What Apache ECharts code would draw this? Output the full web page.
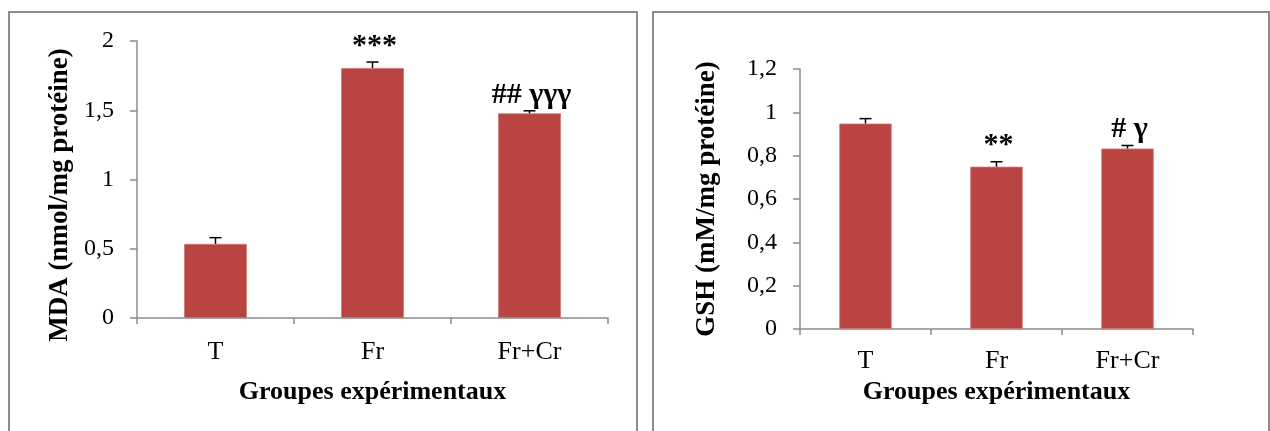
<!DOCTYPE html>
<html>
<head>
<meta charset="utf-8">
<script src="https://cdn.jsdelivr.net/npm/echarts@6/dist/echarts.min.js"></script>
<style>
html,body{margin:0;padding:0;background:#fff;}
#chart{width:1270px;height:431px;}
</style>
</head>
<body>
<div id="chart"></div>
<script>
// ---- data ----
var categories = ['T', 'Fr', 'Fr+Cr'];
var mdaValues = [0.535, 1.805, 1.478];
var mdaErrors = [0.045, 0.043, 0.018];
var mdaSignif = ['', '***', '## γγγ'];
var gshValues = [0.948, 0.749, 0.833];
var gshErrors = [0.023, 0.023, 0.014];
var gshSignif = ['', '**', '# γ'];
var mdaTicks = [0, 0.5, 1, 1.5, 2];
var gshTicks = [0, 0.2, 0.4, 0.6, 0.8, 1, 1.2];
var mdaName = 'MDA (nmol/mg protéine)';
var gshName = 'GSH (mM/mg protéine)';
var xName = 'Groupes expérimentaux';

var FONT = '"Liberation Serif", "Times New Roman", serif';
var AXIS_GRAY = '#8c8c8c';
var BAR_COLOR = '#B94442';

function fmt(v) { return String(+v.toFixed(2)).replace('.', ','); }

function errSeries(xIdx, vals, errs, sig) {
  return {
    type: 'custom',
    xAxisIndex: xIdx,
    yAxisIndex: xIdx,
    z: 5,
    data: vals.map(function (v, i) { return [i, v, errs[i]]; }),
    renderItem: function (params, api) {
      var i = api.value(0), v = api.value(1), e = api.value(2);
      var p0 = api.coord([i, v]);
      var p1 = api.coord([i, v + e]);
      var cap = 6;
      var children = [
        { type: 'line', shape: { x1: p0[0], y1: p0[1], x2: p1[0], y2: p1[1] }, style: { stroke: '#000', lineWidth: 1.5 } },
        { type: 'line', shape: { x1: p1[0] - cap, y1: p1[1], x2: p1[0] + cap, y2: p1[1] }, style: { stroke: '#000', lineWidth: 1.5 } }
      ];
      if (sig[i]) {
        children.push({
          type: 'text',
          style: {
            x: p1[0] + 2, y: p1[1] - 16,
            text: sig[i],
            align: 'center', verticalAlign: 'middle',
            font: 'bold 30px ' + FONT,
            fill: '#000'
          }
        });
      }
      return { type: 'group', children: children };
    }
  };
}

function xAxisCfg(gridIndex, nameGap, labelMargin) {
  return {
    type: 'category', gridIndex: gridIndex, data: categories,
    boundaryGap: true,
    axisLine: { lineStyle: { color: AXIS_GRAY, width: 1.5 } },
    axisTick: { show: true, length: 6, alignWithLabel: false, lineStyle: { color: AXIS_GRAY, width: 1.5 } },
    axisLabel: { color: '#000', fontFamily: FONT, fontSize: 26, margin: labelMargin },
    name: xName, nameLocation: 'middle', nameGap: nameGap,
    nameTextStyle: { color: '#000', fontFamily: FONT, fontSize: 26, fontWeight: 'bold' }
  };
}

function yAxisCfg(gridIndex, ticks) {
  return {
    type: 'value', gridIndex: gridIndex,
    min: ticks[0], max: ticks[ticks.length - 1], interval: ticks[1] - ticks[0],
    splitLine: { show: false },
    axisLine: { show: true, lineStyle: { color: AXIS_GRAY, width: 1.5 } },
    axisTick: { show: true, length: 7, lineStyle: { color: AXIS_GRAY, width: 1.5 } },
    axisLabel: { color: '#000', fontFamily: FONT, fontSize: 24, margin: 23, formatter: fmt }
  };
}

var chart = echarts.init(document.getElementById('chart'), null, { renderer: 'canvas' });
chart.setOption({
  animation: false,
  backgroundColor: '#fff',
  grid: [
    { left: 137, top: 41, width: 471, height: 277 },
    { left: 800, top: 69, width: 393, height: 260 }
  ],
  xAxis: [xAxisCfg(0, 61, 21), xAxisCfg(1, 47, 19)],
  yAxis: [yAxisCfg(0, mdaTicks), yAxisCfg(1, gshTicks)],
  series: [
    { type: 'bar', xAxisIndex: 0, yAxisIndex: 0, data: mdaValues, barWidth: '40%',
      itemStyle: { color: BAR_COLOR, borderColor: '#CC7875', borderWidth: 0.8 } },
    errSeries(0, mdaValues, mdaErrors, mdaSignif),
    { type: 'bar', xAxisIndex: 1, yAxisIndex: 1, data: gshValues, barWidth: '40%',
      itemStyle: { color: BAR_COLOR, borderColor: '#CC7875', borderWidth: 0.8 } },
    errSeries(1, gshValues, gshErrors, gshSignif)
  ],
  graphic: [
    { type: 'rect', shape: { x: 9, y: 12, width: 628, height: 440 }, style: { fill: 'none', stroke: AXIS_GRAY, lineWidth: 2 }, z: -1 },
    { type: 'rect', shape: { x: 653, y: 12, width: 616, height: 440 }, style: { fill: 'none', stroke: AXIS_GRAY, lineWidth: 2 }, z: -1 },
    { type: 'text', x: 60, y: 195, rotation: Math.PI / 2,
      style: { text: mdaName, font: 'bold 27px ' + FONT, fill: '#000', align: 'center', verticalAlign: 'middle' } },
    { type: 'text', x: 707, y: 199, rotation: Math.PI / 2,
      style: { text: gshName, font: 'bold 27px ' + FONT, fill: '#000', align: 'center', verticalAlign: 'middle' } }
  ]
});
</script>
</body>
</html>
